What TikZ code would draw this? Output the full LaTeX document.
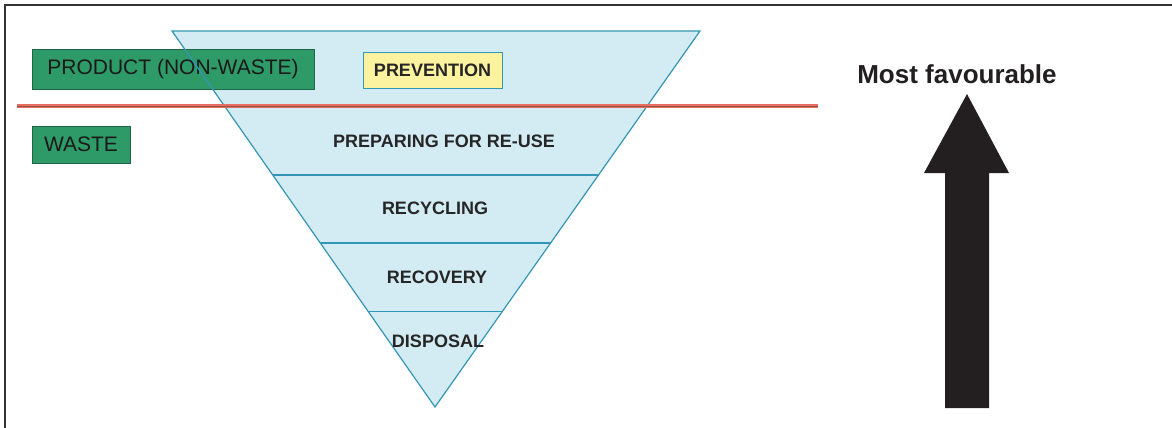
\documentclass[tikz,border=0pt]{standalone}
\usepackage{fontspec}
\setmainfont{Liberation Sans}
\usetikzlibrary{calc}
\definecolor{hierfill}{RGB}{211,236,243}
\definecolor{hierline}{RGB}{52,150,180}
\definecolor{boxgreen}{RGB}{46,154,104}
\definecolor{boxgreenline}{RGB}{30,100,72}
\definecolor{boxyellow}{RGB}{252,243,160}
\definecolor{redline}{RGB}{232,110,95}
\definecolor{redcore}{RGB}{150,80,72}
\definecolor{arrowblack}{RGB}{35,31,32}
\tikzset{
  greenbox/.style={draw=boxgreenline, fill=boxgreen, line width=1pt, inner sep=0pt, text=black!90, font=\fontsize{21}{21}\selectfont},
  levelbox/.style={draw=hierline, fill=boxyellow, line width=1pt, inner sep=0pt, text=black!85, font=\bfseries\fontsize{18}{18}\selectfont},
  level/.style={text=black!85, font=\bfseries\fontsize{18}{18}\selectfont}
}
\begin{document}
\begin{tikzpicture}[x=1pt,y=-1pt]
\useasboundingbox (0,0) rectangle (1172,428);
% frame
\draw[line width=2pt, black!80] (5,428) -- (5,5) -- (1172,5);
% hierarchy
\coordinate (tl) at (172,31);
\coordinate (tr) at (700,31);
\coordinate (apex) at (435,407);
\fill[hierfill] (tl) -- (tr) -- (apex) -- cycle;
\node[greenbox, minimum width=282pt, minimum height=39pt] (product) at (173,69.5) {PRODUCT (NON-WASTE)};
\node[greenbox, minimum width=98pt, minimum height=37pt] (waste) at (81,144.5) {WASTE};
\node[levelbox, minimum width=139pt, minimum height=35pt] (prevention) at (432.5,70.5) {PREVENTION};
\draw[hierline, line width=1.2pt] (tl) -- (tr) -- (apex) -- cycle;
\draw[hierline, line width=1.2pt] ($(tl)!0.383!(apex)$) -- ($(tr)!0.383!(apex)$);
\draw[hierline, line width=1.2pt] ($(tl)!0.564!(apex)$) -- ($(tr)!0.564!(apex)$);
\draw[hierline, line width=1.2pt] ($(tl)!0.747!(apex)$) -- ($(tr)!0.747!(apex)$);
\node[level] (reuse) at (444,141) {PREPARING FOR RE-USE};
\node[level] (recycling) at (435,208) {RECYCLING};
\node[level] (recovery) at (437,277) {RECOVERY};
\node[level] (disposal) at (438,341) {DISPOSAL};
% product / waste border
\draw[redline, line width=3.5pt] (17,106) -- (818,106);
\draw[redcore, line width=1pt] (17,106) -- (818,106);
% arrow
\node[font=\bfseries\fontsize{26}{26}\selectfont, text=arrowblack, anchor=base] (fav) at (957,83) {Most favourable};
\fill[arrowblack] (967,94) -- (1009,173) -- (989,173) -- (989,408) -- (945,408) -- (945,173) -- (924,173) -- cycle;
\end{tikzpicture}
\end{document}
